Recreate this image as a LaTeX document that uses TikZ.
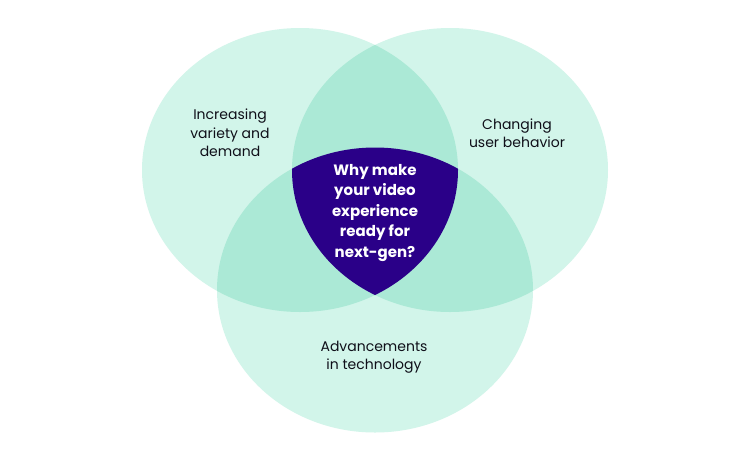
\documentclass[tikz,border=0pt]{standalone}
\usepackage{fontspec}
\setmainfont{Poppins}
\definecolor{mintone}{RGB}{210,245,234}
\definecolor{minttwo}{RGB}{171,233,214}
\definecolor{indigo}{RGB}{42,0,136}
\definecolor{labeltext}{RGB}{15,15,25}
\tikzset{
  lbl/.style={align=center, text=labeltext, font=\fontsize{14}{18.5}\selectfont},
  centrelbl/.style={align=center, text=white, font=\fontsize{15}{20.5}\selectfont\bfseries},
}
\begin{document}
\begin{tikzpicture}[x=1pt,y=-1pt]
\useasboundingbox (0,0) rectangle (750,459);
\fill[white] (0,0) rectangle (750,459);
\def\ellL{(300,170) ellipse [x radius=158, y radius=142]}
\def\ellR{(450,170) ellipse [x radius=158, y radius=142]}
\def\ellB{(375,290) ellipse [x radius=158, y radius=142.5]}
% single regions
\fill[mintone] \ellL;
\fill[mintone] \ellR;
\fill[mintone] \ellB;
% pairwise overlaps
\begin{scope}
  \clip \ellL;
  \fill[minttwo] \ellR;
  \fill[minttwo] \ellB;
\end{scope}
\begin{scope}
  \clip \ellR;
  \fill[minttwo] \ellB;
\end{scope}
% triple overlap
\begin{scope}
  \clip \ellL;
  \clip \ellR;
  \fill[indigo] \ellB;
\end{scope}
\node[lbl] (variety) at (230,133) {Increasing\\variety and\\demand};
\node[lbl] (behavior) at (517,133) {Changing\\user behavior};
\node[lbl] (tech) at (374,357) {Advancements\\in technology};
\node[centrelbl] (why) at (375,213) {Why make\\your video\\experience\\ready for\\next-gen?};
\end{tikzpicture}
\end{document}
